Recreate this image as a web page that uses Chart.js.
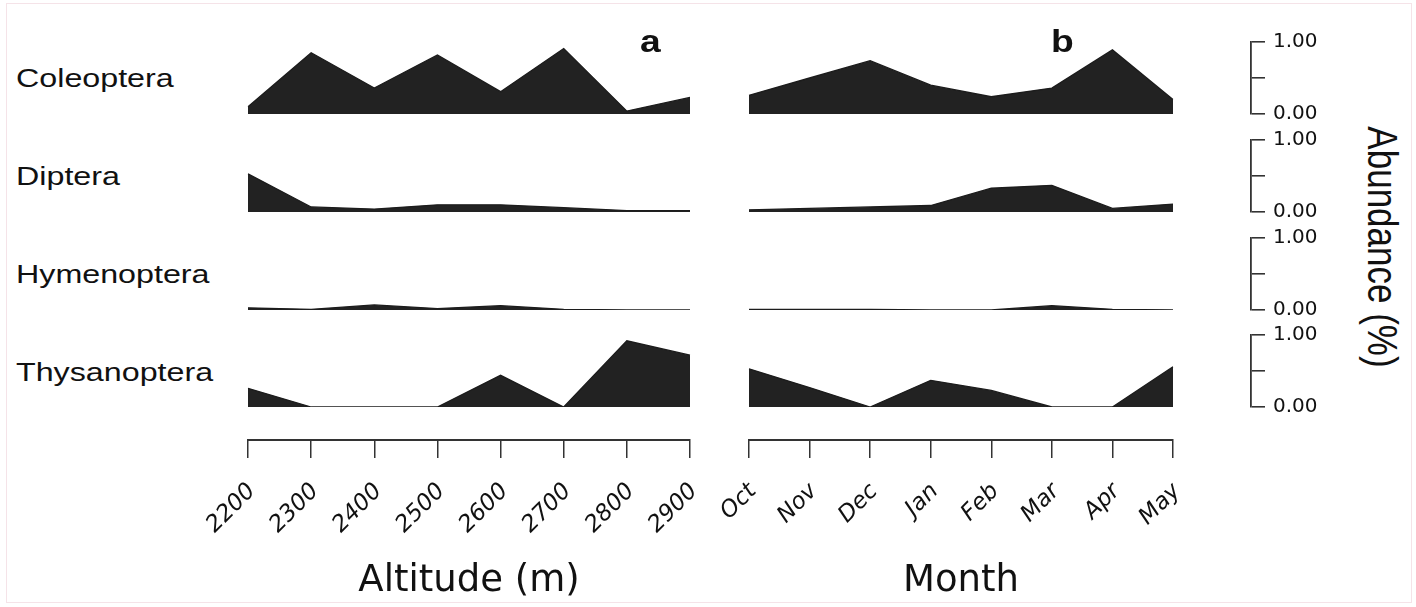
<!DOCTYPE html>
<html>
<head>
<meta charset="utf-8">
<title>Abundance by altitude and month</title>
<script src="https://cdn.jsdelivr.net/npm/chart.js@4.4.1/dist/chart.umd.min.js"></script>
<style>
    html, body { margin: 0; padding: 0; background: #fff; }
    #fig { position: relative; width: 1416px; height: 607px; overflow: hidden; background: #fff; }
    #fig canvas { position: absolute; }
    .frame { position: absolute; left: 6px; top: 3px; width: 1406px; height: 600px; border: 1px solid #f5e3e8; box-sizing: border-box; }
    .txt { position: absolute; font-family: 'Liberation Sans', Arial, sans-serif; color: #111; white-space: nowrap; line-height: 1; }
</style>
</head>
<body>
<div id="fig"><div class="frame"></div></div>
<script>
// ---- data (relative abundance, 0..1) ----
const taxa = ['Coleoptera', 'Diptera', 'Hymenoptera', 'Thysanoptera'];
const altitudes = ['2200', '2300', '2400', '2500', '2600', '2700', '2800', '2900'];
const months = ['Oct', 'Nov', 'Dec', 'Jan', 'Feb', 'Mar', 'Apr', 'May'];

const coleopteraAlt   = [0.10, 0.85, 0.36, 0.82, 0.31, 0.91, 0.04, 0.23];
const dipteraAlt      = [0.53, 0.07, 0.04, 0.10, 0.10, 0.06, 0.02, 0.02];
const hymenopteraAlt  = [0.03, 0.01, 0.07, 0.02, 0.06, 0.01, 0.00, 0.00];
const thysanopteraAlt = [0.26, 0.00, 0.00, 0.00, 0.44, 0.00, 0.92, 0.72];

const coleopteraMonth   = [0.26, 0.50, 0.74, 0.40, 0.24, 0.36, 0.89, 0.20];
const dipteraMonth      = [0.03, 0.05, 0.07, 0.09, 0.33, 0.37, 0.05, 0.11];
const hymenopteraMonth  = [0.01, 0.01, 0.01, 0.00, 0.00, 0.06, 0.01, 0.00];
const thysanopteraMonth = [0.53, 0.27, 0.00, 0.37, 0.23, 0.00, 0.00, 0.56];

const abundanceTicks = [0, 0.25, 0.5, 0.75, 1];

const altSeries = [coleopteraAlt, dipteraAlt, hymenopteraAlt, thysanopteraAlt];
const monthSeries = [coleopteraMonth, dipteraMonth, hymenopteraMonth, thysanopteraMonth];

// ---- layout ----
const ROW_TOP = 42, ROW_PITCH = 97.8, ROW_H = 72;
const PANEL_A = { x0: 248, x1: 690 };
const PANEL_B = { x0: 749, x1: 1173 };
const AXIS_Y = 440;
const INK = '#1c1c1c';

Chart.defaults.animation = false;
Chart.defaults.responsive = false;
Chart.defaults.plugins.legend.display = false;
Chart.defaults.plugins.tooltip.enabled = false;
Chart.defaults.font.family = "'DejaVu Sans', sans-serif";
Chart.defaults.color = '#111';

const fig = document.getElementById('fig');

function addCanvas(left, top, width, height) {
    const c = document.createElement('canvas');
    c.width = width; c.height = height;
    c.style.left = left + 'px'; c.style.top = top + 'px';
    c.style.width = width + 'px'; c.style.height = height + 'px';
    fig.appendChild(c);
    return c;
}

function addText(text, left, top, size, css) {
    const d = document.createElement('div');
    d.className = 'txt';
    d.textContent = text;
    d.style.left = left + 'px';
    d.style.top = top + 'px';
    d.style.fontSize = size + 'px';
    Object.assign(d.style, css || {});
    fig.appendChild(d);
    return d;
}

// filled profile for one taxon in one panel
function areaChart(panel, row, labels, values) {
    const pad = 4;
    const top = Math.round(ROW_TOP + row * ROW_PITCH);
    const c = addCanvas(panel.x0 - pad, top - pad, panel.x1 - panel.x0 + 2 * pad, ROW_H + 2 * pad);
    new Chart(c, {
        type: 'line',
        data: {
            labels,
            datasets: [{
                data: values,
                fill: 'origin',
                backgroundColor: '#222',
                borderColor: INK,
                borderWidth: 1.3,
                pointRadius: 0,
                tension: 0
            }]
        },
        options: {
            layout: { padding: pad },
            scales: {
                x: { type: 'category', display: false, offset: false },
                y: { display: false, min: 0, max: 1 }
            }
        }
    });
}

// bottom category axis with rotated labels
function xAxisChart(panel, labels, title) {
    const padL = 110, padR = 40, above = 30, axisH = 172;
    const c = addCanvas(panel.x0 - padL, AXIS_Y - above, panel.x1 - panel.x0 + padL + padR, above + axisH);
    new Chart(c, {
        type: 'line',
        data: { labels, datasets: [] },
        options: {
            layout: { padding: { left: padL, right: padR, top: 0, bottom: 0 } },
            scales: {
                x: {
                    type: 'category',
                    offset: false,
                    afterFit: s => { s.height = axisH; },
                    border: { display: true, color: '#333', width: 2 },
                    grid: { drawOnChartArea: false, drawTicks: true, tickLength: 18, color: '#333', lineWidth: 1.5 },
                    ticks: {
                        autoSkip: false,
                        minRotation: 45, maxRotation: 45,
                        padding: 20,
                        labelOffset: 4,
                        color: '#111',
                        font: { size: 23, style: 'italic' }
                    },
                    title: { display: true, text: title, color: '#111', font: { size: 37 }, padding: { top: 4, bottom: 8 } }
                },
                y: { display: false, min: 0, max: 1 }
            }
        }
    });
}

// right-hand abundance scale for one row
function yAxisChart(row) {
    const padV = 24, areaW = 10, axisW = 84;
    const top = Math.round(ROW_TOP + row * ROW_PITCH);
    const c = addCanvas(1251 - areaW, top - padV, areaW + axisW, ROW_H + 2 * padV);
    new Chart(c, {
        type: 'line',
        data: { labels: [''], datasets: [] },
        options: {
            layout: { padding: { top: padV, bottom: padV, left: 0, right: 0 } },
            scales: {
                x: { display: false },
                y: {
                    position: 'right',
                    min: 0, max: 1,
                    afterFit: s => { s.width = axisW; },
                    afterBuildTicks: s => { s.ticks = abundanceTicks.map(v => ({ value: v })); },
                    border: { display: true, color: '#333', width: 1.8 },
                    grid: { drawOnChartArea: false, drawTicks: true, tickLength: 14, color: '#333', lineWidth: 1.6 },
                    ticks: {
                        padding: 8,
                        color: '#111',
                        font: { size: 20 },
                        callback: v => (v === 0 || v === 1) ? v.toFixed(2) : ''
                    }
                }
            }
        }
    });
}

taxa.forEach((name, i) => {
    areaChart(PANEL_A, i, altitudes, altSeries[i]);
    areaChart(PANEL_B, i, months, monthSeries[i]);
    yAxisChart(i);
    addText(name, 16, Math.round(65 + i * 98), 26, { transform: 'scaleX(1.24)', transformOrigin: '0 0' });
});

xAxisChart(PANEL_A, altitudes, 'Altitude (m)');
xAxisChart(PANEL_B, months, 'Month');

// panel letters and the shared abundance title
addText('a', 640, 26, 31, { fontWeight: 'bold', transform: 'scaleX(1.2)', transformOrigin: '0 0' });
addText('b', 1051, 26, 31, { fontWeight: 'bold', transform: 'scaleX(1.2)', transformOrigin: '0 0' });
addText('Abundance (%)', 1383, 247, 35, { transform: 'translate(-50%, -50%) rotate(90deg) scaleY(1.22)' });
</script>
</body>
</html>
